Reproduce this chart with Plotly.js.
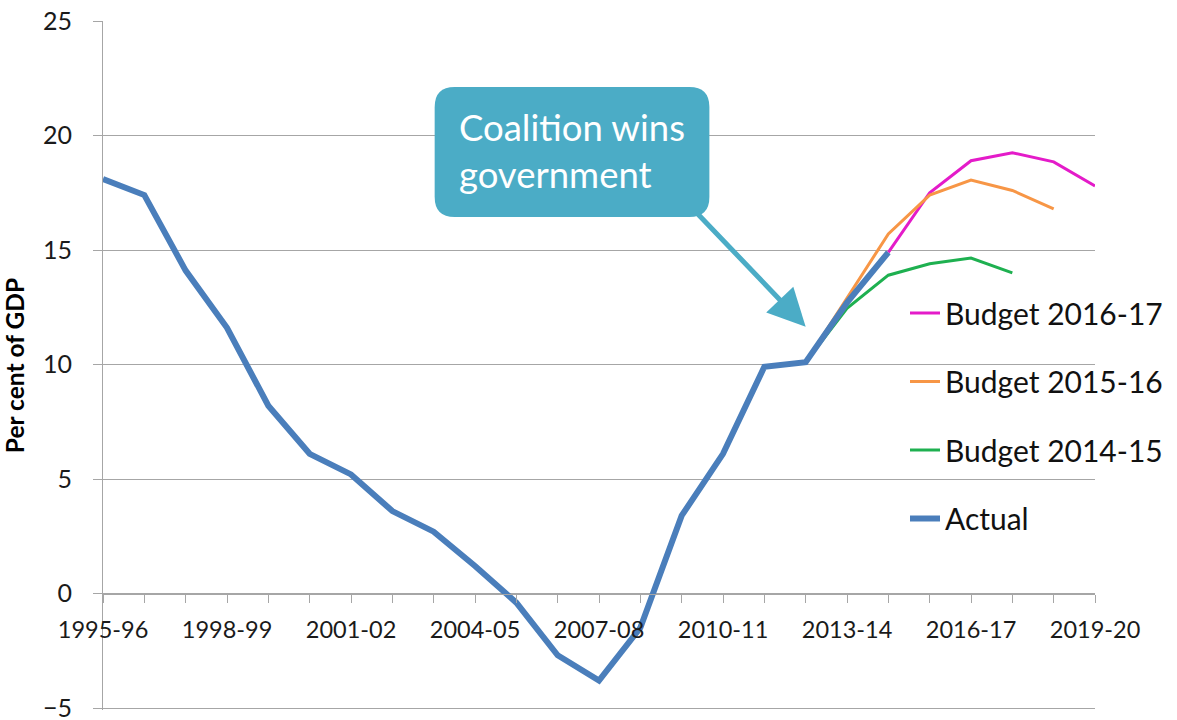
<!DOCTYPE html>
<html>
<head>
<meta charset="utf-8">
<script src="https://cdn.plot.ly/plotly-3.0.1.min.js"></script>
<style>
  html, body { margin: 0; padding: 0; background: #ffffff; }
  #chart { width: 1177px; height: 720px; }
</style>
</head>
<body>
<div id="chart"></div>
<script>
// ---- data ----
const categories = ['1995-96','1996-97','1997-98','1998-99','1999-00','2000-01','2001-02','2002-03','2003-04','2004-05','2005-06','2006-07','2007-08','2008-09','2009-10','2010-11','2011-12','2012-13','2013-14','2014-15','2015-16','2016-17','2017-18','2018-19','2019-20'];
const tickLabels = ['1995-96','','','1998-99','','','2001-02','','','2004-05','','','2007-08','','','2010-11','','','2013-14','','','2016-17','','','2019-20'];
const yTicks = [-5, 0, 5, 10, 15, 20, 25];

const actual = [18.1, 17.4, 14.1, 11.6, 8.2, 6.1, 5.2, 3.6, 2.7, 1.2, -0.4, -2.7, -3.8, -1.5, 3.4, 6.1, 9.9, 10.1, 12.7, 14.9, null, null, null, null, null];
const budget1415 = [null,null,null,null,null,null,null,null,null,null,null,null,null,null,null,null,null, 10.1, 12.45, 13.9, 14.4, 14.65, 14.0, null, null];
const budget1516 = [null,null,null,null,null,null,null,null,null,null,null,null,null,null,null,null,null, 10.1, 12.9, 15.7, 17.4, 18.05, 17.6, 16.8, null];
const budget1617 = [null,null,null,null,null,null,null,null,null,null,null,null,null,null,null,null,null,null,null, 14.9, 17.5, 18.9, 19.25, 18.85, 17.8];

const seriesNames = ['Budget 2016-17', 'Budget 2015-16', 'Budget 2014-15', 'Actual'];
const calloutText = 'Coalition wins<br>government';
const yTitle = 'Per cent of GDP';

// ---- layout geometry ----
const W = 1177, H = 720;
const M = { l: 103, r: 81, t: 21, b: 10 };
const PW = W - M.l - M.r, PH = H - M.t - M.b;
const yRange = [-5.087, 25];
function px(x) { return (x - M.l) / PW; }
function py(y) { return 1 - (y - M.t) / PH; }
function roundRect(x0, y0, x1, y1, r) {
  const p = (x, y) => px(x) + ',' + py(y);
  return 'M' + p(x0 + r, y0) + ' L' + p(x1 - r, y0) + ' Q' + p(x1, y0) + ' ' + p(x1, y0 + r) +
         ' L' + p(x1, y1 - r) + ' Q' + p(x1, y1) + ' ' + p(x1 - r, y1) +
         ' L' + p(x0 + r, y1) + ' Q' + p(x0, y1) + ' ' + p(x0, y1 - r) +
         ' L' + p(x0, y0 + r) + ' Q' + p(x0, y0) + ' ' + p(x0 + r, y0) + ' Z';
}

const FONT = 'Lato, "Open Sans", sans-serif';
const TEAL = '#4BACC6';
const GRID = '#a6a6a6';

const traces = [
  { x: categories, y: budget1617, name: seriesNames[0], type: 'scatter', mode: 'lines',
    line: { color: '#e41bc9', width: 3 }, legendgroup: 'a' },
  { x: categories, y: budget1516, name: seriesNames[1], type: 'scatter', mode: 'lines',
    line: { color: '#F79646', width: 3 }, legendgroup: 'b' },
  { x: categories, y: budget1415, name: seriesNames[2], type: 'scatter', mode: 'lines',
    line: { color: '#1eb050', width: 3 }, legendgroup: 'c' },
  { x: categories, y: actual, name: seriesNames[3], type: 'scatter', mode: 'lines',
    line: { color: '#4A7EBB', width: 6 }, legendgroup: 'd' }
];

const layout = {
  width: W, height: H,
  margin: M,
  paper_bgcolor: '#ffffff', plot_bgcolor: '#ffffff',
  font: { family: FONT, color: '#1a1a1a' },
  showlegend: true,
  legend: {
    x: px(905), y: py(287), xanchor: 'left', yanchor: 'top',
    font: { size: 30, family: FONT, color: '#111' },
    bgcolor: 'rgba(0,0,0,0)', tracegroupgap: 26.5
  },
  xaxis: {
    type: 'category', range: [0, 24],
    tickmode: 'array', tickvals: categories, ticktext: tickLabels,
    anchor: 'free', position: (0 - yRange[0]) / (yRange[1] - yRange[0]),
    showgrid: false, zeroline: false,
    showline: true, linecolor: GRID, linewidth: 1,
    ticks: 'outside', ticklen: 8, tickcolor: GRID, tickwidth: 1,
    tickfont: { size: 23.5, family: FONT, color: '#1a1a1a' },
    ticklabelstandoff: 7,
    fixedrange: true
  },
  yaxis: {
    range: yRange, tickmode: 'array', tickvals: yTicks,
    showgrid: true, gridcolor: GRID, gridwidth: 1,
    zeroline: false,
    showline: true, linecolor: GRID, linewidth: 1,
    ticks: 'outside', ticklen: 9, tickcolor: GRID, tickwidth: 1,
    tickfont: { size: 25, family: FONT, color: '#1a1a1a' },
    ticklabelstandoff: 16, ticklabeloverflow: 'allow',
    automargin: false,
    title: { text: yTitle, font: { size: 24.5, family: FONT, weight: 'bold', color: '#000' }, standoff: 11 },
    fixedrange: true
  },
  shapes: [
    { type: 'path', xref: 'paper', yref: 'paper', layer: 'above',
      path: roundRect(435, 87, 710, 217, 20),
      fillcolor: TEAL, line: { width: 0 } }
  ],
  annotations: [
    { xref: 'paper', yref: 'paper', x: px(457), y: py(151), xanchor: 'left', yanchor: 'middle',
      align: 'left', showarrow: false, text: calloutText,
      font: { size: 36.5, family: FONT, color: '#ffffff' } },
    { xref: 'x', yref: 'y', x: categories[17], y: 11.65, text: '',
      showarrow: true, axref: 'pixel', ayref: 'pixel', ax: -110, ay: -115,
      arrowcolor: TEAL, arrowwidth: 5, arrowhead: 2, arrowsize: 1.5 }
  ]
};

Plotly.newPlot('chart', traces, layout, { displayModeBar: false, staticPlot: true });
</script>
</body>
</html>
